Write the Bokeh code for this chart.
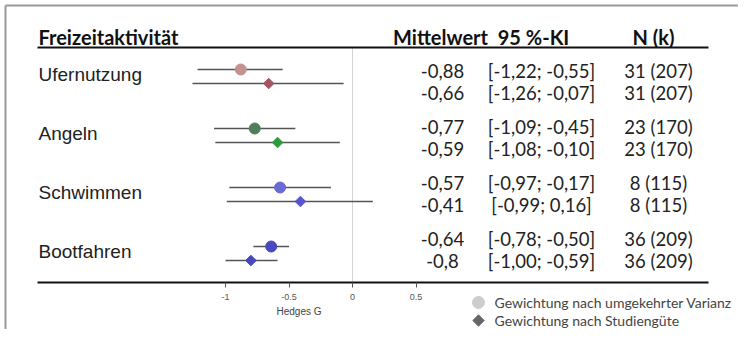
import math
from bokeh.plotting import figure
from bokeh.models import Range1d, LinearAxis, FixedTicker, CustomJSTickFormatter
from bokeh.core.properties import value
from bokeh.embed import file_html
from bokeh.resources import INLINE

# ---- data ----
activities = ["Ufernutzung", "Angeln", "Schwimmen", "Bootfahren"]
mean_iv = [-0.88, -0.77, -0.57, -0.64]
lo_iv = [-1.22, -1.09, -0.97, -0.78]
hi_iv = [-0.55, -0.45, -0.17, -0.50]
mean_q = [-0.66, -0.59, -0.41, -0.80]
lo_q = [-1.26, -1.08, -0.99, -1.00]
hi_q = [-0.07, -0.10, 0.16, -0.59]
mean_iv_txt = ["-0,88", "-0,77", "-0,57", "-0,64"]
mean_q_txt = ["-0,66", "-0,59", "-0,41", "-0,8"]
ci_iv_txt = ["[-1,22; -0,55]", "[-1,09; -0,45]", "[-0,97; -0,17]", "[-0,78; -0,50]"]
ci_q_txt = ["[-1,26; -0,07]", "[-1,08; -0,10]", "[-0,99; 0,16]", "[-1,00; -0,59]"]
n_txt = ["31 (207)", "23 (170)", "8 (115)", "36 (209)"]
col_iv = ["#c49090", "#4f7f5a", "#6b6bd6", "#4848c0"]
col_q = ["#a35560", "#2e9a40", "#5555cc", "#4848c0"]
ticks = [-1, -0.5, 0, 0.5]
headers = ["Mittelwert", "95 %-KI", "N (k)"]
legend_labels = ["Gewichtung nach umgekehrter Varianz", "Gewichtung nach Studiengüte"]

# ---- layout helpers (screen pixel -> data) ----
W, H = 738, 329
X0, SCALE = 352.0, 127.0
def gx(px):
    return (px - X0) / SCALE

p = figure(width=W, height=H, output_backend="svg", toolbar_location=None,
           x_range=Range1d(gx(0), gx(W)), y_range=Range1d(H, 0),
           x_axis_type=None, y_axis_type=None, min_border=0)
p.grid.visible = False
p.outline_line_color = None
p.background_fill_color = "white"

TF = value("Lato")
AF = value("Liberation Sans")

# outer frame (top, left)
p.segment(x0=[gx(5), gx(5)], y0=[5, 5], x1=[gx(738), gx(5)], y1=[5, 329],
          line_color="#9a9a9a", line_width=2)

# zero line
p.segment(x0=[0], y0=[47], x1=[0], y1=[282], line_color="#d4d4d4", line_width=1)
# header and bottom rules
p.segment(x0=[gx(37), gx(37)], y0=[47, 282], x1=[gx(708), gx(708)], y1=[47, 282],
          line_color="#111111", line_width=2)

# headers
p.text(x=[gx(38)], y=[36], text=["Freizeitaktivität"], text_font=TF, text_font_style="bold",
       text_font_size="20px", text_align="left", text_baseline="middle", text_color="#111111")
p.text(x=[gx(440), gx(533), gx(653)], y=[36, 36, 36], text=headers, text_font=TF,
       text_font_style="bold", text_font_size="20px", text_align="center",
       text_baseline="middle", text_color="#111111")

n = len(activities)
cy = [69 + 59 * i for i in range(n)]
dy = [c + 14 for c in cy]
ly = [c + 5 for c in cy]
t1 = [70 + 56 * i for i in range(n)]
t2 = [t + 22 for t in t1]

# labels
p.text(x=[gx(38)] * n, y=ly, text=activities, text_font=AF, text_font_size="19px",
       text_align="left", text_baseline="middle", text_color="#222222")

# CIs
p.segment(x0=lo_iv, x1=hi_iv, y0=cy, y1=cy, line_color="#555555", line_width=1.6)
p.segment(x0=lo_q, x1=hi_q, y0=dy, y1=dy, line_color="#555555", line_width=1.6)
p.scatter(x=mean_iv, y=cy, marker="circle", size=11, fill_color=col_iv, line_color=col_iv)
p.scatter(x=mean_q, y=dy, marker="square", angle=math.pi / 4, size=7.5,
          fill_color=col_q, line_color=col_q)

# table
for xs, txt1, txt2 in [(gx(442), mean_iv_txt, mean_q_txt),
                       (gx(541), ci_iv_txt, ci_q_txt),
                       (gx(658), n_txt, n_txt)]:
    p.text(x=[xs] * n, y=t1, text=txt1, text_font=TF, text_font_size="18.5px",
           text_align="center", text_baseline="middle", text_color="#222222")
    p.text(x=[xs] * n, y=t2, text=txt2, text_font=TF, text_font_size="18.5px",
           text_align="center", text_baseline="middle", text_color="#222222")

# legend
p.scatter(x=[gx(478)], y=[302], marker="circle", size=12, fill_color="#cdcdcd", line_color="#cdcdcd")
p.scatter(x=[gx(478)], y=[320], marker="square", angle=math.pi / 4, size=8,
          fill_color="#666666", line_color="#666666")
p.text(x=[gx(494), gx(494)], y=[302, 320], text=legend_labels, text_font=TF, text_font_size="14px",
       text_align="left", text_baseline="middle", text_color="#444444")

# axis
ax = LinearAxis(fixed_location=282, ticker=FixedTicker(ticks=ticks), bounds=(-1.35, 0.5),
                formatter=CustomJSTickFormatter(code="return tick.toString()"),
                axis_label="Hedges G")
ax.axis_line_color = None
ax.major_tick_in = 0
ax.major_tick_out = 5
ax.major_tick_line_color = "#555555"
ax.minor_tick_line_color = None
ax.major_label_text_font = "Liberation Sans"
ax.major_label_text_font_size = "9px"
ax.major_label_text_color = "#555555"
ax.major_label_standoff = 6
ax.axis_label_text_font = "Liberation Sans"
ax.axis_label_text_font_style = "normal"
ax.axis_label_text_font_size = "10px"
ax.axis_label_text_color = "#444444"
ax.axis_label_standoff = 3
p.add_layout(ax, "below")

open("out.html", "w").write(file_html(p, INLINE))
